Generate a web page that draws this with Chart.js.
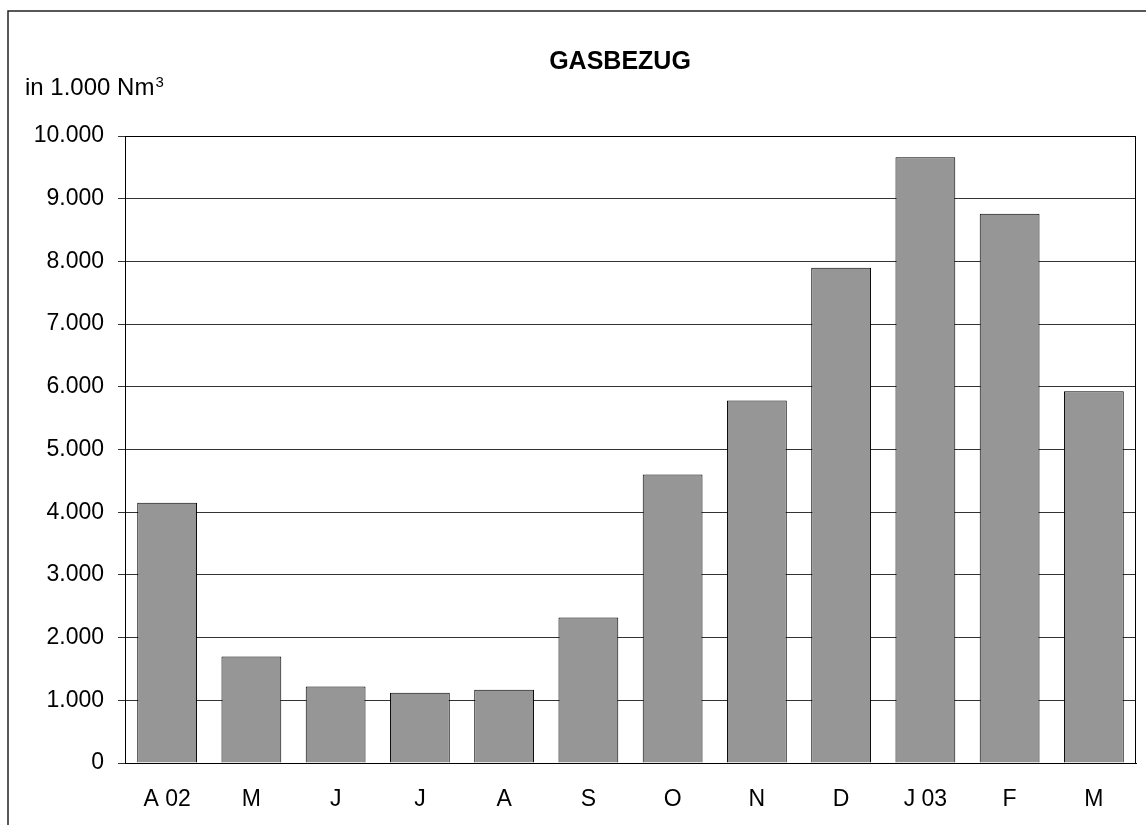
<!DOCTYPE html>
<html>
<head>
<meta charset="utf-8">
<script src="https://cdn.jsdelivr.net/npm/chart.js@4"></script>
<style>
  html, body { margin: 0; padding: 0; background: #fff; }
  #wrap { width: 1146px; height: 825px; }
</style>
</head>
<body>
<div id="wrap"><canvas id="gas-chart"></canvas></div>
<script>
const months = ['A 02', 'M', 'J', 'J', 'A', 'S', 'O', 'N', 'D', 'J 03', 'F', 'M']
const gasValues = [4150, 1700, 1220, 1120, 1170, 2320, 4600, 5780, 7900, 9660, 8760, 5930]
const chartTitle = 'GASBEZUG'
const unitLabel = 'in 1.000 Nm'

const FONT = "'Liberation Sans', Arial, sans-serif"

// frame, plot box, title and unit text
const decorations = {
  id: 'decorations',
  beforeDraw(chart) {
    const ctx = chart.ctx
    ctx.save()
    ctx.strokeStyle = '#222'
    ctx.lineWidth = 1.5
    ctx.beginPath()
    ctx.moveTo(8, 830)
    ctx.lineTo(8, 11)
    ctx.lineTo(1150, 11)
    ctx.stroke()
    ctx.restore()
  },
  afterDraw(chart) {
    const ctx = chart.ctx
    const a = chart.chartArea
    ctx.save()
    ctx.strokeStyle = '#000'
    ctx.lineWidth = 1
    ctx.strokeRect(Math.round(a.left) + 0.5, Math.round(a.top) + 0.5,
      Math.round(a.right - a.left) - 1, Math.round(a.bottom - a.top))

    ctx.fillStyle = '#000'
    ctx.textBaseline = 'alphabetic'
    ctx.font = 'bold 25px ' + FONT
    ctx.textAlign = 'center'
    ctx.fillText(chartTitle, 620, 69)

    ctx.textAlign = 'left'
    ctx.font = '24px ' + FONT
    ctx.fillText(unitLabel, 25, 95)
    const w = ctx.measureText(unitLabel).width
    ctx.font = '15px ' + FONT
    ctx.fillText('3', 25 + w + 1, 87)
    ctx.restore()
  }
}

new Chart(document.querySelector('#gas-chart'), {
  type: 'bar',
  data: {
    labels: months,
    datasets: [{
      data: gasValues,
      backgroundColor: '#969696',
      borderColor: '#000',
      borderWidth: 1,
      barPercentage: 0.71,
      categoryPercentage: 1
    }]
  },
  options: {
    responsive: true,
    maintainAspectRatio: false,
    animation: false,
    layout: {
      padding: { top: 136, right: 10, left: 0, bottom: 0 }
    },
    plugins: {
      legend: { display: false },
      title: { display: false },
      tooltip: { enabled: false }
    },
    scales: {
      x: {
        grid: { display: false },
        border: { display: true, color: '#000' },
        ticks: {
          color: '#000',
          padding: 15,
          maxRotation: 0,
          font: { family: FONT, size: 23 }
        },
        afterFit(scale) { scale.height = 62 }
      },
      y: {
        min: 0,
        max: 10000,
        grid: { color: '#333', lineWidth: 1, tickLength: 7 },
        border: { display: true, color: '#000' },
        ticks: {
          stepSize: 1000,
          color: '#000',
          padding: 14,
          font: { family: FONT, size: 23 },
          callback: v => v.toLocaleString('de-DE')
        },
        afterFit(scale) { scale.width = 125 }
      }
    }
  },
  plugins: [decorations]
})
</script>
</body>
</html>
